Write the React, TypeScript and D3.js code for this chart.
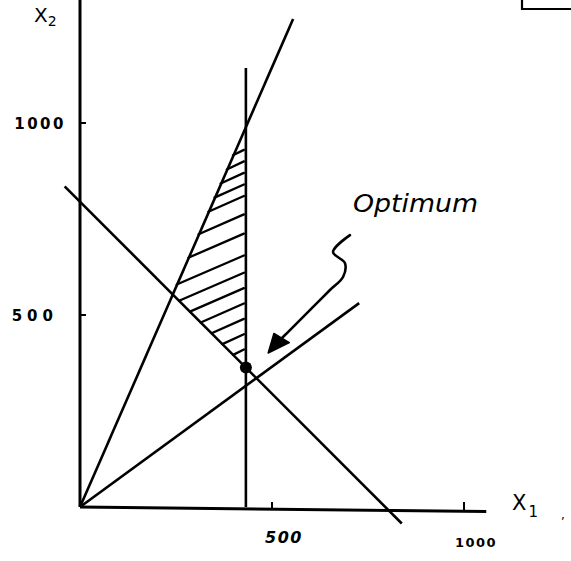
import * as d3 from "d3";

// axis ticks (data units)
const X1_TICKS = [500, 1000];
const X2_TICKS = [500, 1000];

// constraint lines as segments in (x1, x2) data units
const LINE_X1_START = [0, 432, -40, 0];
const LINE_X2_START = [0, 0, 835, 0];
const LINE_X1_END = [555, 432, 838, 727];
const LINE_X2_END = [1271, 1143, -43, 531];

// feasible region hatching: x2 where each stroke meets the x1 = 432 line
const HATCH_X2 = [930, 900, 870, 840, 810, 762, 712, 655, 610, 570, 530, 490, 450, 410];
const HATCH_SLOPE = 0.42;
const CAP_X1 = 432;
const STEEP_RATIO = 2.3;
const DEMAND_SUM = 795;

const OPTIMUM = [432, 363];

// squiggly annotation arrow (data units)
const ARROW_X1 = [703, 659, 690, 685, 651, 607, 565, 539, 523];
const ARROW_X2 = [708, 664, 635, 599, 565, 521, 479, 453, 437];
const ARROW_HEAD_X1 = [490, 505, 545];
const ARROW_HEAD_X2 = [401, 452, 428];

const W = 571;
const H = 561;

export default function App() {
  const x = d3.scaleLinear().domain([0, 1000]).range([80, 464]);
  const y = d3.scaleLinear().domain([0, 1000]).range([507, 123]);

  const font = "'DejaVu Sans', sans-serif";
  const sw = 2.6;

  const hatch = HATCH_X2.map(h => {
    // left end: first boundary hit walking left along the stroke
    const a = (h - CAP_X1 * HATCH_SLOPE) / (STEEP_RATIO - HATCH_SLOPE);
    const b = (DEMAND_SUM - h + CAP_X1 * HATCH_SLOPE) / (1 + HATCH_SLOPE);
    const x1 = Math.max(a, b);
    return { x1, y1: h + HATCH_SLOPE * (x1 - CAP_X1), x2: CAP_X1, y2: h };
  });

  const arrowPts: [number, number][] = ARROW_X1.map((v, i) => [x(v), y(ARROW_X2[i])]);
  const arrowPath = d3.line().curve(d3.curveCatmullRom.alpha(0.5))(arrowPts) || "";
  const headPts = ARROW_HEAD_X1.map((v, i) => `${x(v)},${y(ARROW_HEAD_X2[i])}`).join(" ");

  return (
    <svg
      width={W}
      height={H}
      style={{ position: "absolute", left: 0, top: 0, background: "#fff" }}
    >
      {/* corner box remnant */}
      <path d={`M522,0 V9 H${W}`} fill="none" stroke="#000" strokeWidth={2.2} />

      {/* axes */}
      <line x1={x(0)} x2={x(0)} y1={0} y2={y(0)} stroke="#000" strokeWidth={3} />
      <line x1={x(0)} x2={x(1058)} y1={y(0)} y2={y(-12)} stroke="#000" strokeWidth={3} />

      {X2_TICKS.map(t => (
        <g key={"yt" + t}>
          <line x1={x(0)} x2={x(0) + 6} y1={y(t)} y2={y(t)} stroke="#000" strokeWidth={2} />
          <text
            x={x(0) - (t === 1000 ? 14 : 22)}
            y={y(t) + 6}
            textAnchor="end"
            fontFamily={font}
            fontSize={15}
            letterSpacing={t === 1000 ? 2.5 : 5}
            fontWeight="bold"
          >
            {t}
          </text>
        </g>
      ))}

      {X1_TICKS.map(t => (
        <g key={"xt" + t}>
          <line x1={x(t)} x2={x(t)} y1={y(0) - 5} y2={y(0) + 3} stroke="#000" strokeWidth={2} />
          <text
            x={x(t) + 12}
            y={y(0) + (t === 1000 ? 40 : 36)}
            textAnchor="middle"
            fontFamily={font}
            fontSize={t === 1000 ? 13 : 16}
            fontStyle={t === 1000 ? "normal" : "italic"}
            fontWeight="bold"
            letterSpacing={1.5}
          >
            {t}
          </text>
        </g>
      ))}

      {/* axis names */}
      <text x={34} y={22} fontFamily={font} fontSize={20}>
        X<tspan fontSize={14} dy={4}>2</tspan>
      </text>
      <text x={512} y={510} fontFamily={font} fontSize={21}>
        X<tspan fontSize={15} dy={7} dx={2}>1</tspan>
      </text>
      <text x={561} y={519} fontFamily={font} fontSize={12}>,</text>

      {/* hatching */}
      {hatch.map((d, i) => (
        <line
          key={"h" + i}
          x1={x(d.x1)}
          y1={y(d.y1)}
          x2={x(d.x2) - 2}
          y2={y(d.y2)}
          stroke="#000"
          strokeWidth={2.3}
          strokeLinecap="round"
        />
      ))}

      {/* constraint lines */}
      {LINE_X1_START.map((v, i) => (
        <line
          key={"l" + i}
          x1={x(v)}
          y1={y(LINE_X2_START[i])}
          x2={x(LINE_X1_END[i])}
          y2={y(LINE_X2_END[i])}
          stroke="#000"
          strokeWidth={sw}
        />
      ))}

      {/* optimum point */}
      <circle cx={x(OPTIMUM[0])} cy={y(OPTIMUM[1])} r={6} fill="#000" />

      {/* annotation */}
      <path d={arrowPath} fill="none" stroke="#000" strokeWidth={2.6} strokeLinecap="round" />
      <polygon points={headPts} fill="#000" stroke="#000" strokeWidth={1.5} strokeLinejoin="round" />
      <text
        x={353}
        y={212}
        fontFamily={font}
        fontStyle="italic"
        fontSize={24}
        textLength={125}
        lengthAdjust="spacingAndGlyphs"
      >
        Optimum
      </text>
    </svg>
  );
}
